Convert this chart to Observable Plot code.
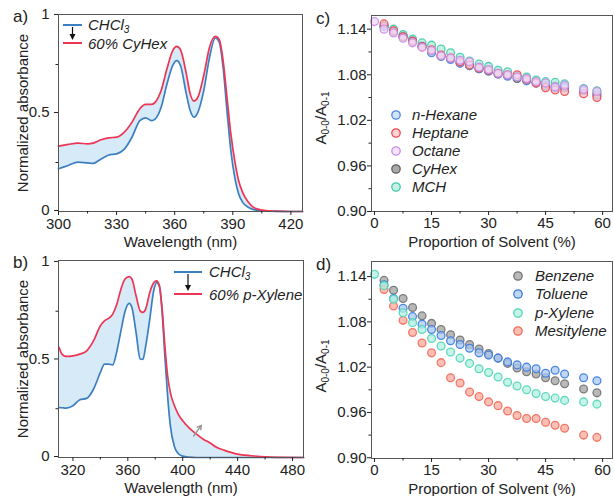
<!DOCTYPE html>
<html><head><meta charset="utf-8">
<script src="https://cdn.jsdelivr.net/npm/d3@7"></script>
<script src="https://cdn.jsdelivr.net/npm/@observablehq/plot@0.6"></script>
<style>
body{margin:0;background:#fff;}
#fig{position:relative;width:614px;height:496px;overflow:hidden;font-family:"Liberation Sans",Arial,sans-serif;color:#222;background:#fff;}
.panel{position:absolute;}
.panel svg{overflow:visible;}
.lbl{position:absolute;font-size:17px;line-height:1;}
.leg{position:absolute;font-size:15px;font-style:italic;line-height:1;white-space:nowrap;}
.leg sub{font-size:10px;vertical-align:-3px;line-height:0;}
.ylab{position:absolute;font-size:15px;line-height:1;white-space:nowrap;transform:translate(-50%,-50%) rotate(-90deg);}
.ylab sub{font-size:10px;vertical-align:-3px;line-height:0;}
.ov{position:absolute;overflow:visible;}
</style>
</head><body>
<div id="fig"></div>
<script>
// ---------- Panel a: CHCl3 -> 60% CyHex ----------
const wavelengthA = [300,305,310,315,318,322,326,330,334,338,342,345,348,350,353,356,359,361,363,366,368,370,372,375,378,381,383,385,387,389,391,393,395,398,400,403,407,412,420,426];
const chcl3A = [0.218,0.235,0.252,0.248,0.246,0.268,0.288,0.294,0.318,0.38,0.464,0.478,0.464,0.473,0.532,0.65,0.745,0.77,0.745,0.60,0.515,0.481,0.507,0.617,0.787,0.885,0.864,0.736,0.515,0.311,0.175,0.09,0.048,0.022,0.012,0.006,0.002,0.001,0,0];
const cyhex60A = [0.333,0.342,0.349,0.345,0.349,0.366,0.376,0.379,0.405,0.456,0.524,0.546,0.546,0.558,0.617,0.728,0.821,0.842,0.825,0.702,0.60,0.563,0.583,0.694,0.838,0.893,0.876,0.77,0.583,0.396,0.26,0.158,0.099,0.048,0.026,0.012,0.005,0.002,0,0];
const xTicksA = [300,330,360,390,420];
const xMinorA = [315,345,375,405];
const yTicksAB = [0,0.5,1];
const yMinorAB = [0.25,0.75];

// ---------- Panel b: CHCl3 -> 60% p-Xylene ----------
const wavelengthB = [310,312,315,320,325,330,335,340,343,346,349,352,355,358,361,363,366,369,371,373,376,379,381,383,385,387,389,391,394,397,400,405,410,415,420,425,430,440,450,460,470,488];
const chcl3B = [0.256,0.255,0.253,0.265,0.296,0.303,0.35,0.436,0.479,0.479,0.475,0.545,0.65,0.75,0.79,0.769,0.641,0.505,0.503,0.57,0.71,0.86,0.897,0.88,0.744,0.521,0.316,0.162,0.055,0.018,0.007,0.002,0,0,0,0,0,0,0,0,0,0];
const xylene60B = [0.564,0.53,0.518,0.521,0.53,0.547,0.598,0.675,0.701,0.713,0.735,0.786,0.863,0.915,0.927,0.915,0.829,0.752,0.744,0.761,0.846,0.897,0.906,0.88,0.761,0.573,0.419,0.333,0.265,0.219,0.188,0.149,0.12,0.094,0.074,0.051,0.038,0.017,0.009,0.003,0.001,0];
const xTicksB = [320,360,400,440,480];
const xMinorB = [340,380,420,460];
const arrowB = [{x1:408,y1:0.11,x2:413.5,y2:0.165}];

// ---------- Panels c and d: A0-0/A0-1 vs proportion ----------
const proportion = [0,2.5,5,7.5,10,12.5,15,17.5,20,22.5,25,27.5,30,32.5,35,37.5,40,42.5,45,47.5,50,55,58.5];
const nHexane = [null,1.144,1.137,1.130,1.124,1.117,1.109,1.104,1.100,1.095,1.092,1.088,1.085,1.081,1.078,1.077,1.072,1.069,1.065,1.063,1.063,1.059,1.053];
const heptane = [null,1.147,1.138,1.130,1.124,1.117,1.113,1.106,1.102,1.097,1.093,1.089,1.086,1.082,1.080,1.080,1.074,1.069,1.063,1.060,1.058,1.055,1.050];
const octane = [1.150,1.140,1.135,1.128,1.122,1.116,1.112,1.105,1.102,1.099,1.097,1.090,1.087,1.082,1.080,1.077,1.075,1.071,1.069,1.064,1.066,1.061,1.058];
const cyHex = [null,1.144,1.137,1.131,1.125,1.118,1.111,1.105,1.101,1.096,1.092,1.088,1.085,1.081,1.079,1.075,1.073,1.070,1.067,1.065,1.064,1.060,1.055];
const mch = [null,1.144,1.140,1.133,1.127,1.122,1.119,1.114,1.109,1.103,1.098,1.094,1.091,1.086,1.084,1.078,1.077,1.073,1.071,1.070,1.068,1.062,1.059];

const benzene = [null,1.135,1.122,1.111,1.099,1.088,1.078,1.070,1.063,1.056,1.050,1.044,1.038,1.032,1.025,1.019,1.014,1.011,1.006,1.002,0.998,0.991,0.986];
const toluene = [null,1.129,1.111,1.098,1.087,1.077,1.070,1.062,1.055,1.050,1.045,1.039,1.036,1.032,1.027,1.023,1.020,1.018,1.012,1.016,1.011,1.006,1.002];
const pXylene = [1.143,1.128,1.110,1.092,1.079,1.070,1.058,1.048,1.040,1.032,1.025,1.018,1.013,1.007,1.000,0.995,0.990,0.985,0.981,0.979,0.976,0.974,0.971];
const mesitylene = [null,1.123,1.101,1.082,1.066,1.052,1.039,1.026,1.006,0.999,0.987,0.981,0.974,0.969,0.962,0.956,0.952,0.952,0.947,0.943,0.939,0.930,0.927];

const xTicksCD = [0,15,30,45,60];
const xMinorCD = [7.5,22.5,37.5,52.5];
const yTicksCD = [0.90,0.96,1.02,1.08,1.14];
const yMinorCD = [0.93,0.99,1.05,1.11];

const seriesC = [
  {name:"CyHex", values:cyHex, stroke:"#5e5e5e", fill:"#8c8c8c"},
  {name:"MCH", values:mch, stroke:"#3fcaa9", fill:"#b2ecdf"},
  {name:"n-Hexane", values:nHexane, stroke:"#4a86e2", fill:"#c4d9f6"},
  {name:"Heptane", values:heptane, stroke:"#f0474f", fill:"#f9c6c8"},
  {name:"Octane", values:octane, stroke:"#c98de8", fill:"#eedaf7"}
];
const legendC = ["n-Hexane","Heptane","Octane","CyHex","MCH"];
const seriesD = [
  {name:"Benzene", values:benzene, stroke:"#727272", fill:"#a2a2a2"},
  {name:"Toluene", values:toluene, stroke:"#3b7be2", fill:"#a9c9f2"},
  {name:"Mesitylene", values:mesitylene, stroke:"#f26a58", fill:"#f9aa9c"},
  {name:"p-Xylene", values:pXylene, stroke:"#4fd5b7", fill:"#b4f0e2"}
];
const legendD = ["Benzene","Toluene","p-Xylene","Mesitylene"];

// ---------- helpers ----------
const FONT = '"Liberation Sans", Arial, sans-serif';
const BLUE = "#3c7fc1", RED = "#ee3553", SHADE = "#d6eaf7";
const fig = document.getElementById("fig");

function place(node, left, top) {
  const d = document.createElement("div");
  d.className = "panel"; d.style.left = left + "px"; d.style.top = top + "px";
  d.appendChild(node); fig.appendChild(d); return d;
}
function html(cls, left, top, inner) {
  const d = document.createElement("div");
  d.className = cls; d.style.left = left + "px"; d.style.top = top + "px";
  d.innerHTML = inner; fig.appendChild(d); return d;
}
const baseStyle = {fontSize: "15px", fontFamily: FONT, color: "#222", background: "transparent", overflow: "visible"};

function spectrum(opts) {
  const rows = opts.w.map((w, i) => ({w, blue: opts.blue[i], red: opts.red[i]}));
  return Plot.plot({
    width: opts.width, height: opts.height,
    marginLeft: opts.ml, marginRight: opts.mr, marginTop: opts.mt, marginBottom: opts.mb,
    style: baseStyle,
    x: {domain: opts.xdomain},
    y: {domain: opts.ydomain},
    marks: [
      Plot.areaY(rows, {x: "w", y1: "blue", y2: "red", fill: SHADE, curve: "monotone-x"}),
      Plot.line(rows, {x: "w", y: "blue", stroke: BLUE, strokeWidth: 1.7, curve: "monotone-x"}),
      Plot.line(rows, {x: "w", y: "red", stroke: RED, strokeWidth: 1.7, curve: "monotone-x"}),
      ...(opts.extra || []),
      Plot.frame({stroke: "#555", strokeWidth: 1}),
      Plot.axisX(opts.xticks, {tickSize: 4, tickPadding: 3, label: "Wavelength (nm)", labelAnchor: "center", labelArrow: "none", labelOffset: 35, tickFormat: d => String(d)}),
      Plot.axisX(opts.xminor, {tickSize: 2.5, tickFormat: () => "", label: null}),
      Plot.axisY(yTicksAB, {tickSize: 4, tickPadding: 5, dy: -1, label: "Normalized absorbance", labelAnchor: "center", labelArrow: "none", labelOffset: 41, tickFormat: d => String(d)}),
      Plot.axisY(yMinorAB, {tickSize: 2.5, tickFormat: () => "", label: null})
    ]
  });
}

function ratioPlot(opts) {
  const marks = [];
  for (const s of opts.series) {
    const rows = proportion.map((p, i) => ({p, v: s.values[i]})).filter(r => r.v != null);
    marks.push(Plot.dot(rows, {x: "p", y: "v", r: 3.9, fill: s.fill, fillOpacity: 0.75, stroke: s.stroke, strokeWidth: 1.3, strokeOpacity: 0.9}));
  }
  return Plot.plot({
    width: opts.width, height: opts.height,
    marginLeft: opts.ml, marginRight: opts.mr, marginTop: opts.mt, marginBottom: opts.mb,
    style: baseStyle,
    x: {domain: [-0.8, 62.6]},
    y: {domain: opts.ydomain},
    marks: [
      ...marks,
      Plot.frame({stroke: "#555", strokeWidth: 1}),
      Plot.axisX(xTicksCD, {tickSize: 4, tickPadding: 2, label: "Proportion of Solvent (%)", labelAnchor: "center", labelArrow: "none", labelOffset: 35, tickFormat: d => String(d)}),
      Plot.axisX(xMinorCD, {tickSize: 2.5, tickFormat: () => "", label: null}),
      Plot.axisY(yTicksCD, {tickSize: 4, tickPadding: 1, label: null, tickFormat: d3.format(".2f")}),
      Plot.axisY(yMinorCD, {tickSize: 2.5, tickFormat: () => "", label: null})
    ]
  });
}

// ---------- build ----------
place(spectrum({w: wavelengthA, blue: chcl3A, red: cyhex60A, width: 307, height: 250, ml: 58, mr: 5, mt: 14, mb: 39,
  xdomain: [300, 426], ydomain: [0, 1.005], xticks: xTicksA, xminor: xMinorA}), 0, 0);

place(spectrum({w: wavelengthB, blue: chcl3B, red: xylene60B, width: 307, height: 251, ml: 58, mr: 4, mt: 15, mb: 39,
  xdomain: [309.5, 488], ydomain: [0, 1.01], xticks: xTicksB, xminor: xMinorB,
  extra: [Plot.arrow(arrowB, {x1: "x1", y1: "y1", x2: "x2", y2: "y2", stroke: "#9a9a9a", strokeWidth: 1.5, headLength: 7})]}), 0, 245);

place(ratioPlot({series: seriesC, width: 314, height: 250, ml: 71, mr: 2, mt: 15, mb: 39, ydomain: [0.9, 1.158]}), 300, 0);
place(ratioPlot({series: seriesD, width: 314, height: 251, ml: 71, mr: 2, mt: 16, mb: 38, ydomain: [0.899, 1.16]}), 300, 245);

// panel letters
html("lbl", 13, 8, "a)");
html("lbl", 13, 254, "b)");
html("lbl", 316, 10, "c)");
html("lbl", 316, 256, "d)");

// y labels c, d
html("ylab", 320, 118, "A<sub>0-0</sub>/A<sub>0-1</sub>");
html("ylab", 320, 366, "A<sub>0-0</sub>/A<sub>0-1</sub>");

// legends a, b (line swatches + arrow)
function specLegend(left, top, len, gap, t1, t2, textLeft) {
  const svg = `<svg class="ov" width="${len+6}" height="${gap+10}" style="left:${left}px;top:${top}px">
    <line x1="2" y1="4" x2="${len+2}" y2="4" stroke="${BLUE}" stroke-width="2"/>
    <line x1="${len/2+2}" y1="6" x2="${len/2+2}" y2="${gap-2}" stroke="#111" stroke-width="1.2"/>
    <path d="M${len/2-1},${gap-5} L${len/2+5},${gap-5} L${len/2+2},${gap+1} Z" fill="#111"/>
    <line x1="2" y1="${gap+4}" x2="${len+2}" y2="${gap+4}" stroke="${RED}" stroke-width="2"/></svg>`;
  const d = document.createElement("div"); d.innerHTML = svg; fig.appendChild(d.firstElementChild);
  html("leg", textLeft, top - 4, t1);
  html("leg", textLeft, top + gap - 3, t2);
}
specLegend(61, 21, 19, 18, "CHCl<sub>3</sub>", "60% CyHex", 88);
specLegend(172, 268, 28, 22, "CHCl<sub>3</sub>", "60% p-Xylene", 209);

// legends c, d (markers)
function dotLegend(names, series, cx, textLeft, rowsY) {
  names.forEach((n, i) => {
    const s = series.find(q => q.name === n);
    const y = rowsY[i];
    const d = document.createElement("div");
    d.innerHTML = `<svg class="ov" width="12" height="12" style="left:${cx-6}px;top:${y-6}px"><circle cx="6" cy="6" r="4.2" fill="${s.fill}" fill-opacity="0.75" stroke="${s.stroke}" stroke-width="1.3"/></svg>`;
    fig.appendChild(d.firstElementChild);
    html("leg", textLeft, y - 8, n);
  });
}
dotLegend(legendC, seriesC, 396, 412, [115,133,151,169,187]);
dotLegend(legendD, seriesD, 518, 535, [276,294,313,331]);
</script>
</body></html>
